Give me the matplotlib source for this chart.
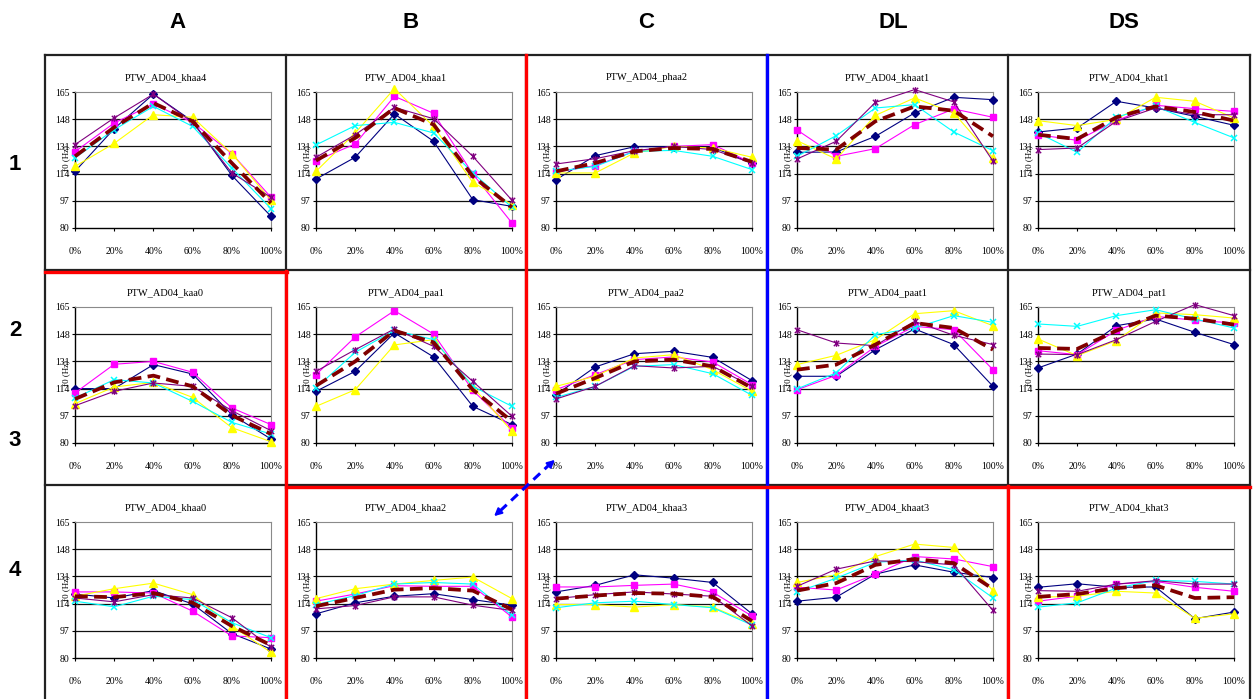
import matplotlib
matplotlib.use("Agg")
import matplotlib.pyplot as plt
from matplotlib.path import Path
from matplotlib.lines import Line2D
from matplotlib.patches import FancyArrowPatch

W, H = 1253, 699

categories = ["0%", "20%", "40%", "60%", "80%", "100%"]
yticks = [80, 97, 114, 131, 148, 165]
column_labels = ["A", "B", "C", "DL", "DS"]
row_labels = ["1", "2", "3", "4"]

titles = [
    ["PTW_AD04_khaa4", "PTW_AD04_khaa1", "PTW_AD04_phaa2", "PTW_AD04_khaat1", "PTW_AD04_khat1"],
    ["PTW_AD04_kaa0", "PTW_AD04_paa1", "PTW_AD04_paa2", "PTW_AD04_paat1", "PTW_AD04_pat1"],
    ["PTW_AD04_khaa0", "PTW_AD04_khaa2", "PTW_AD04_khaa3", "PTW_AD04_khaat3", "PTW_AD04_khat3"],
]

# each panel: navy, magenta, yellow, cyan, purple, mean (dashed)
khaa4 = [
    [115.4, 142.1, 163.7, 146.7, 112.9, 87.3],
    [127.7, 145.6, 157.5, 146.0, 126.5, 99.2],
    [118.5, 132.9, 150.8, 149.2, 126.5, 97.3],
    [123.8, 141.5, 156.0, 143.5, 117.5, 92.1],
    [132.1, 148.8, 163.7, 146.0, 114.4, 99.2],
    [124.8, 142.9, 158.1, 146.7, 120.6, 95.6],
]
khaa1 = [
    [110.6, 124.2, 151.3, 134.2, 97.7, 93.5],
    [122.1, 132.5, 162.3, 151.7, 113.8, 83.1],
    [115.4, 139.4, 167.1, 143.5, 108.5, 94.6],
    [131.9, 144.0, 146.0, 139.4, 114.4, 92.9],
    [124.2, 138.3, 155.4, 148.3, 124.8, 97.3],
    [122.1, 136.3, 155.0, 144.6, 112.3, 92.9],
]
phaa2 = [
    [110.2, 125.2, 130.8, 130.8, 130.4, 120.6],
    [115.0, 119.0, 127.9, 131.0, 132.1, 120.6],
    [114.4, 114.4, 126.9, 131.0, 130.0, 124.2],
    [115.4, 118.5, 127.9, 128.5, 124.8, 116.5],
    [120.0, 123.3, 128.3, 131.0, 129.0, 120.6],
    [115.4, 120.6, 127.9, 130.0, 129.4, 121.3],
]
khaat1 = [
    [127.3, 127.5, 137.3, 151.9, 161.7, 160.2],
    [141.3, 124.8, 129.6, 144.6, 154.4, 149.2],
    [134.6, 123.1, 150.4, 161.3, 151.9, 123.8],
    [124.8, 137.7, 155.0, 157.1, 140.0, 128.3],
    [123.1, 134.2, 158.5, 166.5, 158.8, 121.7],
    [130.0, 129.0, 146.7, 156.0, 153.3, 137.3],
]
khat1 = [
    [140.0, 142.5, 159.2, 155.0, 149.8, 144.2],
    [138.3, 134.8, 147.1, 156.7, 154.6, 152.9],
    [147.1, 144.0, 147.9, 161.7, 159.2, 148.8],
    [139.4, 127.3, 149.4, 156.0, 146.0, 136.3],
    [129.0, 130.0, 146.7, 155.0, 150.8, 150.8],
    [138.3, 135.6, 149.2, 156.0, 152.5, 147.1],
]
kaa0 = [
    [114.0, 114.0, 129.0, 123.1, 97.7, 82.5],
    [111.3, 129.2, 131.0, 124.2, 101.9, 91.5],
    [104.6, 115.0, 117.9, 108.5, 89.6, 80.8],
    [108.1, 119.6, 117.5, 106.0, 92.9, 85.6],
    [103.3, 112.3, 117.5, 115.4, 100.2, 87.7],
    [107.5, 117.9, 122.1, 115.4, 97.3, 85.6],
]
paa1 = [
    [112.3, 124.8, 148.8, 133.8, 102.9, 91.5],
    [122.7, 146.3, 162.7, 148.1, 112.9, 89.2],
    [102.9, 113.3, 141.3, 144.6, 115.0, 87.3],
    [114.4, 136.7, 150.4, 144.6, 115.4, 102.9],
    [124.8, 138.3, 151.3, 140.4, 118.5, 96.7],
    [115.8, 131.0, 150.2, 142.9, 113.3, 93.5],
]
paa2 = [
    [110.2, 127.5, 135.8, 137.3, 133.5, 119.0],
    [113.3, 122.7, 132.1, 133.8, 130.6, 116.5],
    [115.4, 121.7, 133.1, 135.2, 125.8, 112.3],
    [108.5, 115.4, 127.9, 129.0, 123.3, 109.8],
    [107.5, 115.4, 128.3, 126.9, 127.9, 115.4],
    [110.8, 120.6, 131.0, 132.1, 127.9, 114.4],
]
paat1 = [
    [121.7, 121.7, 138.3, 151.3, 141.5, 115.4],
    [113.3, 122.3, 140.4, 152.9, 150.8, 125.8],
    [129.0, 134.8, 144.6, 160.8, 162.7, 153.3],
    [113.8, 123.8, 147.7, 151.9, 159.6, 155.4],
    [150.8, 142.5, 140.8, 156.0, 147.3, 141.5],
    [125.8, 129.0, 141.5, 155.0, 151.9, 138.3],
]
pat1 = [
    [126.9, 135.6, 153.3, 157.5, 149.2, 141.5],
    [137.7, 135.2, 150.4, 159.2, 156.7, 155.0],
    [145.0, 134.6, 144.0, 161.3, 160.2, 158.1],
    [154.4, 152.9, 159.6, 163.3, 157.5, 151.9],
    [135.6, 135.2, 144.6, 156.0, 166.5, 159.6],
    [139.4, 138.8, 150.2, 159.6, 157.7, 154.0],
]
khaa0 = [
    [120.0, 117.5, 122.1, 113.8, 95.3, 85.6],
    [121.3, 121.3, 120.6, 109.3, 93.8, 92.7],
    [118.6, 123.3, 126.8, 119.6, 100.0, 83.5],
    [115.5, 112.0, 118.6, 116.5, 102.1, 92.7],
    [117.5, 115.1, 119.6, 117.5, 105.2, 86.6],
    [118.6, 118.0, 120.6, 114.5, 100.0, 88.0],
]
khaa2 = [
    [107.6, 114.5, 118.6, 120.2, 116.5, 113.0],
    [115.5, 120.0, 125.2, 124.8, 124.8, 105.6],
    [117.1, 123.3, 126.2, 128.5, 130.6, 117.1],
    [113.4, 119.0, 126.2, 127.2, 126.2, 106.6],
    [110.7, 112.8, 118.2, 118.2, 113.0, 109.7],
    [112.4, 117.5, 122.7, 123.7, 122.1, 110.3],
]
khaa3 = [
    [121.3, 125.4, 132.0, 129.9, 127.2, 107.6],
    [124.4, 124.4, 125.4, 126.2, 121.1, 106.2],
    [113.4, 113.4, 111.8, 113.4, 111.8, 101.5],
    [111.4, 114.5, 115.5, 113.4, 111.4, 100.6],
    [117.1, 119.6, 121.3, 120.0, 118.6, 100.0],
    [117.1, 119.0, 120.6, 120.2, 118.2, 103.1],
]
khaat3 = [
    [115.5, 118.0, 132.4, 138.2, 133.6, 130.3],
    [124.2, 122.5, 132.4, 143.4, 141.9, 137.1],
    [127.2, 132.0, 143.4, 151.2, 149.1, 122.1],
    [121.3, 129.9, 139.8, 141.3, 135.1, 117.6],
    [124.8, 135.5, 140.7, 140.2, 138.2, 109.7],
    [122.1, 126.8, 138.2, 141.9, 139.3, 123.1],
]
khat3 = [
    [124.2, 126.4, 124.2, 124.4, 104.6, 108.7],
    [115.5, 118.6, 126.2, 127.8, 124.2, 121.7],
    [118.0, 118.6, 121.7, 120.6, 104.8, 107.6],
    [111.8, 114.5, 123.7, 128.5, 127.9, 126.2],
    [122.1, 121.7, 126.2, 128.3, 126.2, 126.2],
    [118.2, 120.0, 123.7, 125.4, 117.5, 118.0],
]

panels = [
    [khaa4, khaa1, phaa2, khaat1, khat1],
    [kaa0, paa1, paa2, paat1, pat1],
    [khaa0, khaa2, khaa3, khaat3, khat3],
]

# Excel-style "star" marker: an x crossed by a vertical stroke
STAR = Path(
    [(-1, -1), (1, 1), (-1, 1), (1, -1), (0, -1.25), (0, 1.25)],
    [Path.MOVETO, Path.LINETO, Path.MOVETO, Path.LINETO, Path.MOVETO, Path.LINETO],
)

series_styles = [
    dict(color="#000080", marker="D", ms=3.8, lw=0.8),
    dict(color="#FF00FF", marker="s", ms=4.8, lw=0.8),
    dict(color="#FFFF00", marker="^", ms=5.4, lw=0.8),
    dict(color="#00FFFF", marker="x", ms=4.8, mew=1.1, lw=0.8),
    dict(color="#800080", marker=STAR, ms=4.8, mew=1.0, lw=0.8),
    dict(color="#800000", lw=2.7, ls=(0, (3.4, 1.7)), solid_capstyle="butt"),
]

SERIF = ["Liberation Serif", "DejaVu Serif"]
BOLD = ["Liberation Sans Narrow", "Liberation Sans", "DejaVu Sans"]

col_x = [45, 286, 526, 767, 1008, 1250]
row_y = [55, 270, 485, 699]

fig = plt.figure(figsize=(W / 100, H / 100), dpi=100)
fig.patch.set_facecolor("white")


def fx(x):
    return x / W


def fy(y):
    return 1 - y / H


for r in range(3):
    for c in range(5):
        x0, y0 = col_x[c], row_y[r]
        left, right = x0 + 30, x0 + 226
        top, bottom = y0 + 37, y0 + 173
        ax = fig.add_axes([fx(left), fy(bottom), (right - left) / W, (bottom - top) / H])
        xs = range(len(categories))
        for vals, st in zip(panels[r][c], series_styles):
            ax.plot(xs, vals, clip_on=False, zorder=3, **st)
        ax.set_xlim(0, 5)
        ax.set_ylim(80, 165)
        ax.set_yticks(yticks)
        ax.set_xticks(list(xs))
        ax.set_xticklabels(categories)
        for yv in yticks[1:-1]:
            ax.axhline(yv, color="#111111", lw=0.9, zorder=1)
        ax.spines["top"].set_color("#8a8a8a")
        ax.spines["right"].set_color("#8a8a8a")
        ax.spines["left"].set_linewidth(1.0)
        ax.spines["bottom"].set_linewidth(1.0)
        ax.tick_params(axis="x", length=2.5, width=0.8, pad=11, labelsize=7)
        ax.tick_params(axis="y", length=2.5, width=0.8, pad=1.5, labelsize=7)
        for lab in ax.get_xticklabels() + ax.get_yticklabels():
            lab.set_fontfamily(SERIF)
        fig.text(fx((x0 + col_x[c + 1]) / 2), fy(y0 + 23), titles[r][c],
                 ha="center", va="center", fontsize=7.5, family=SERIF)
        fig.text(fx(x0 + 21), fy((top + bottom) / 2 - 2), "f0 (Hz)", rotation=90,
                 ha="center", va="center", fontsize=6.5, family=SERIF)

# overlay for frames, dividers and the arrow
ov = fig.add_axes([0, 0, 1, 1], zorder=10)
ov.set_xlim(0, W)
ov.set_ylim(H, 0)
ov.axis("off")
ov.patch.set_alpha(0)

for x in col_x:
    ov.add_line(Line2D([x, x], [row_y[0], H], color="#222222", lw=1.6))
for y in row_y[:3]:
    ov.add_line(Line2D([col_x[0], col_x[-1]], [y, y], color="#222222", lw=1.6))

red = "#FF0000"
blue = "#0000FF"
ov.add_line(Line2D([526, 526], [55, H], color=red, lw=2.4))
ov.add_line(Line2D([767, 767], [55, H], color=blue, lw=2.4))
ov.add_line(Line2D([45, 287], [272, 272], color=red, lw=2.4))
ov.add_line(Line2D([286, 286], [271, H], color=red, lw=2.4))
ov.add_line(Line2D([286, 1250], [487, 487], color=red, lw=2.4))
ov.add_line(Line2D([1008, 1008], [486, H], color=red, lw=2.4))

# double-headed dashed arrow
ov.add_line(Line2D([500, 549], [511, 465], color=blue, lw=2.2, ls=(0, (3, 2))))
for (xa, ya), (xb, yb) in [((548, 466), (557, 458)), ((501, 510), (492, 518))]:
    ov.add_patch(FancyArrowPatch((xa, ya), (xb, yb), arrowstyle="-|>",
                                 mutation_scale=11, color=blue, lw=1.5))

for lab, cx in zip(column_labels, [178, 411, 646, 893, 1124]):
    ov.text(cx, 23, lab, ha="center", va="center", fontsize=16,
            fontweight="bold", family=BOLD)
for lab, cy in zip(row_labels, [165, 330, 440, 570]):
    ov.text(15, cy, lab, ha="center", va="center", fontsize=16,
            fontweight="bold", family=BOLD)

fig.savefig("out.png", dpi=100)
